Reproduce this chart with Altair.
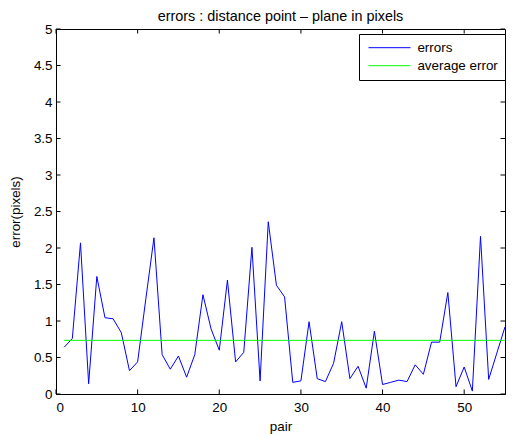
import altair as alt
import pandas as pd

# ---- data ----
PAIRS = list(range(1, 56))
ERRORS = [0.64, 0.76, 2.07, 0.14, 1.61, 1.045, 1.03, 0.84, 0.32, 0.44,
          1.30, 2.14, 0.54, 0.34, 0.52, 0.23, 0.54, 1.36, 0.89, 0.60,
          1.56, 0.44, 0.57, 2.01, 0.18, 2.36, 1.49, 1.33, 0.16, 0.18,
          0.99, 0.21, 0.17, 0.42, 0.99, 0.21, 0.38, 0.08, 0.86, 0.13,
          0.16, 0.19, 0.17, 0.40, 0.27, 0.71, 0.71, 1.39, 0.10, 0.37,
          0.04, 2.16, 0.20, 0.56, 0.92]
AVERAGE_ERROR = 0.735
SERIES = ["errors", "average error"]
COLORS = ["#0000ff", "#00ff00"]
X_TICKS = [0, 10, 20, 30, 40, 50]
Y_TICKS = [0, 0.5, 1, 1.5, 2, 2.5, 3, 3.5, 4, 4.5, 5]
X_DOMAIN = [0, 55]
Y_DOMAIN = [0, 5]
TITLE = "errors : distance point \u2013 plane in pixels"
X_TITLE = "pair"
Y_TITLE = "error(pixels)"

W, H = 449, 365
TL = 4.5  # inward tick length
FONT = "Liberation Sans"
FS = 13.4

err_df = pd.DataFrame({"pair": PAIRS, "value": ERRORS, "series": SERIES[0]})
avg_df = pd.DataFrame({"pair": [PAIRS[0], PAIRS[-1]],
                       "value": [AVERAGE_ERROR, AVERAGE_ERROR],
                       "series": SERIES[1]})
xt_df = pd.DataFrame({"pair": X_TICKS})
yt_df = pd.DataFrame({"value": Y_TICKS})

xscale = alt.Scale(domain=X_DOMAIN, nice=False)
yscale = alt.Scale(domain=Y_DOMAIN, nice=False)
cscale = alt.Scale(domain=SERIES, range=COLORS)

legend = alt.Legend(
    title=None, orient="none", legendX=303, legendY=5,
    strokeColor="black", fillColor="white", padding=7,
    symbolType="M-1,0H9", symbolSize=70.56, symbolStrokeWidth=1,
    labelFont=FONT, labelFontSize=FS, labelColor="black",
    labelOffset=38, rowPadding=3,
)

x_axis = alt.Axis(values=X_TICKS, title=X_TITLE, format="d")
y_axis = alt.Axis(values=Y_TICKS, title=Y_TITLE, format=".1~f")

X = alt.X("pair:Q", scale=xscale, axis=x_axis)
Y = alt.Y("value:Q", scale=yscale, axis=y_axis)

err_line = alt.Chart(err_df).mark_line(strokeWidth=1).encode(
    x=X, y=Y,
    color=alt.Color("series:N", scale=cscale, legend=legend),
)
avg_line = alt.Chart(avg_df).mark_line(strokeWidth=1).encode(
    x=X, y=Y,
    color=alt.Color("series:N", scale=cscale, legend=legend),
)

rule = dict(color="black", strokeWidth=1)
bottom_ticks = alt.Chart(xt_df).mark_rule(**rule).encode(
    x=X, y=alt.value(H), y2=alt.value(H - TL))
top_ticks = alt.Chart(xt_df).mark_rule(**rule).encode(
    x=X, y=alt.value(0), y2=alt.value(TL))
left_ticks = alt.Chart(yt_df).mark_rule(**rule).encode(
    y=Y, x=alt.value(0), x2=alt.value(TL))
right_ticks = alt.Chart(yt_df).mark_rule(**rule).encode(
    y=Y, x=alt.value(W), x2=alt.value(W - TL))

chart = alt.layer(
    err_line, avg_line, bottom_ticks, top_ticks, left_ticks, right_ticks
).properties(
    width=W, height=H,
    autosize=alt.AutoSizeParams(type="none"),
    padding={"left": 48, "top": 21, "right": 1, "bottom": 40},
    title=alt.TitleParams(TITLE, font=FONT, fontSize=14.4, fontWeight="normal",
                          color="black", anchor="middle", offset=-2),
).configure_view(
    stroke="black", strokeWidth=1
).configure_axis(
    grid=False, domainColor="black", domainWidth=1,
    ticks=False, labelPadding=5,
    labelFont=FONT, labelFontSize=FS, labelColor="black",
    titleFont=FONT, titleFontSize=FS, titleColor="black",
    titleFontWeight="normal",
).configure_axisX(
    titlePadding=6, labelPadding=6
).configure_axisY(
    titlePadding=10.5, labelPadding=4
)

chart.save("out.html", embed_options={"renderer": "svg", "actions": False})
